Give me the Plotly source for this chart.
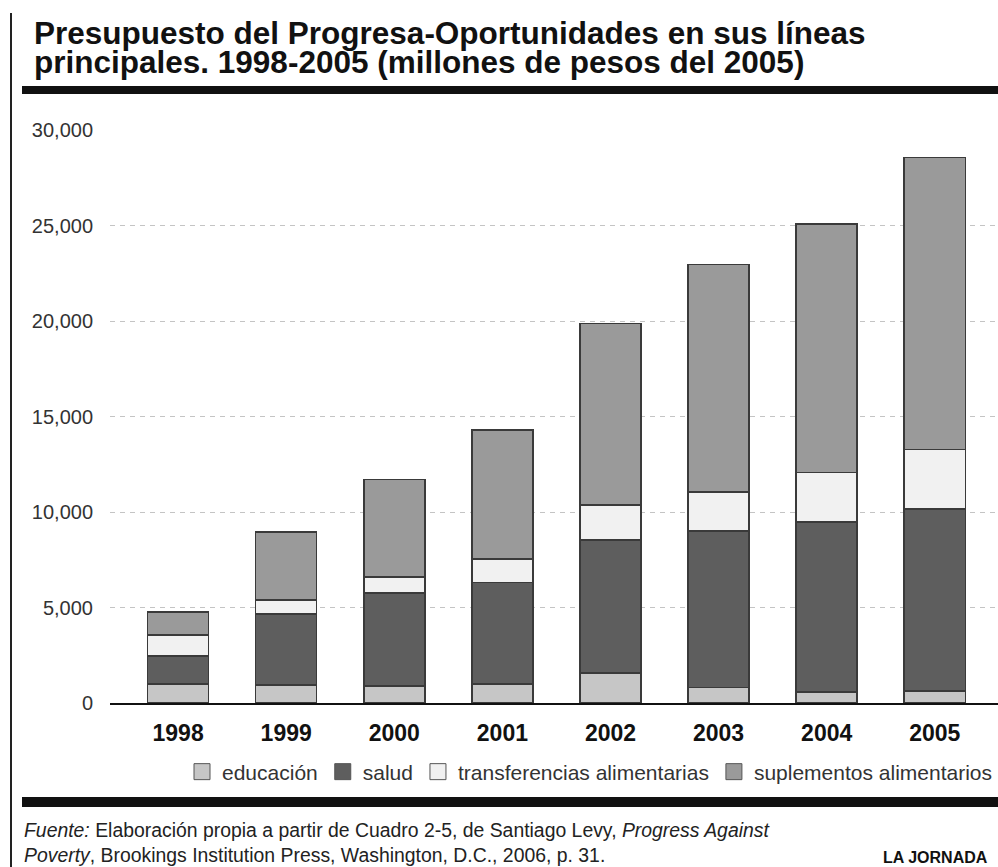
import plotly.graph_objects as go

years = ["1998", "1999", "2000", "2001", "2002", "2003", "2004", "2005"]
educacion = [1000, 950, 900, 1000, 1570, 800, 580, 630]
salud = [1460, 3700, 4850, 5300, 6960, 8200, 8900, 9530]
transferencias = [1100, 750, 850, 1250, 1840, 2050, 2600, 3100]
suplementos = [1200, 3550, 5100, 6750, 9500, 11900, 13000, 15300]

series_names = ["educación", "salud", "transferencias alimentarias", "suplementos alimentarios"]
series_values = [educacion, salud, transferencias, suplementos]
series_colors = ["#c6c6c6", "#5e5e5e", "#f1f1f1", "#9a9a9a"]

y_ticks = [0, 5000, 10000, 15000, 20000, 25000, 30000]

title_lines = ["Presupuesto del Progresa-Oportunidades en sus líneas",
               "principales. 1998-2005 (millones de pesos del 2005)"]

W, H = 998, 867
L, R, T, B = 110, 0, 130, 164
PW, PH = W - L - R, H - T - B

def px(x):
    return (x - L) / PW

def py(y):
    return (H - B - y) / PH

FONT = "Liberation Sans, Arial, Helvetica, sans-serif"

fig = go.Figure()
for name, vals, col in zip(series_names, series_values, series_colors):
    fig.add_trace(go.Bar(
        x=years, y=vals, name=name, showlegend=False,
        marker=dict(color=col, line=dict(color="#3a3a3a", width=1.5)),
    ))
for name, col in zip(series_names, series_colors):
    fig.add_trace(go.Scatter(
        x=[None], y=[None], name=name, mode="markers",
        marker=dict(symbol="square", size=16, color=col, line=dict(color="#555555", width=1)),
    ))

annotations = [
    dict(xref="paper", yref="paper", x=px(32), y=py(33), xanchor="left", yanchor="middle",
         showarrow=False, font=dict(family=FONT, size=31.5, color="#111111", weight="bold"),
         text=title_lines[0]),
    dict(xref="paper", yref="paper", x=px(32), y=py(62), xanchor="left", yanchor="middle",
         showarrow=False, font=dict(family=FONT, size=31.5, color="#111111", weight="bold"),
         text=title_lines[1]),
    dict(xref="paper", yref="paper", x=px(22), y=py(830), xanchor="left", yanchor="middle",
         showarrow=False, font=dict(family=FONT, size=19.4, color="#222222"),
         text="<i>Fuente:</i> Elaboración propia a partir de Cuadro 2-5, de Santiago Levy, <i>Progress Against</i>"),
    dict(xref="paper", yref="paper", x=px(22), y=py(855), xanchor="left", yanchor="middle",
         showarrow=False, font=dict(family=FONT, size=19.4, color="#222222"),
         text="<i>Poverty</i>, Brookings Institution Press, Washington, D.C., 2006, p. 31."),
    dict(xref="paper", yref="paper", x=px(990), y=py(857), xanchor="right", yanchor="middle",
         showarrow=False, font=dict(family=FONT, size=16, color="#111111", weight="bold"),
         text="LA JORNADA"),
]

fig.update_layout(
    width=W, height=H,
    margin=dict(l=L, r=R, t=T, b=B, autoexpand=False),
    barmode="stack", bargap=0.435,
    paper_bgcolor="white", plot_bgcolor="white",
    font=dict(family=FONT, color="#333333"),
    xaxis=dict(
        type="category", range=[-0.63, 7.585],
        showgrid=False, showline=True, linecolor="#111111", linewidth=2,
        ticks="", ticklabelstandoff=8,
        tickfont=dict(family=FONT, size=23, color="#111111", weight="bold"),
        fixedrange=True,
    ),
    yaxis=dict(
        range=[0, 30000], tickvals=y_ticks, tickformat=",d",
        showgrid=True, gridcolor="#c4c4c4", gridwidth=1, griddash="5px,5px",
        zeroline=False, showline=False, ticks="", ticklabelstandoff=16,
        tickfont=dict(family=FONT, size=20, color="#333333"),
        fixedrange=True,
    ),
    legend=dict(
        orientation="h", traceorder="normal",
        x=px(998), xanchor="right", y=py(772), yanchor="middle",
        font=dict(family=FONT, size=21, color="#333333"),
        bgcolor="rgba(0,0,0,0)", itemclick=False,
    ),
    shapes=[
        dict(type="line", xref="paper", yref="paper", x0=px(11), x1=px(11), y0=py(13), y1=py(867),
             line=dict(color="#222222", width=2)),
        dict(type="rect", xref="paper", yref="paper", x0=px(22), x1=px(998), y0=py(86), y1=py(94),
             fillcolor="#111111", line=dict(width=0)),
        dict(type="rect", xref="paper", yref="paper", x0=px(22), x1=px(998), y0=py(797), y1=py(807),
             fillcolor="#111111", line=dict(width=0)),
    ],
    annotations=annotations,
)

fig.write_html("out.html")
